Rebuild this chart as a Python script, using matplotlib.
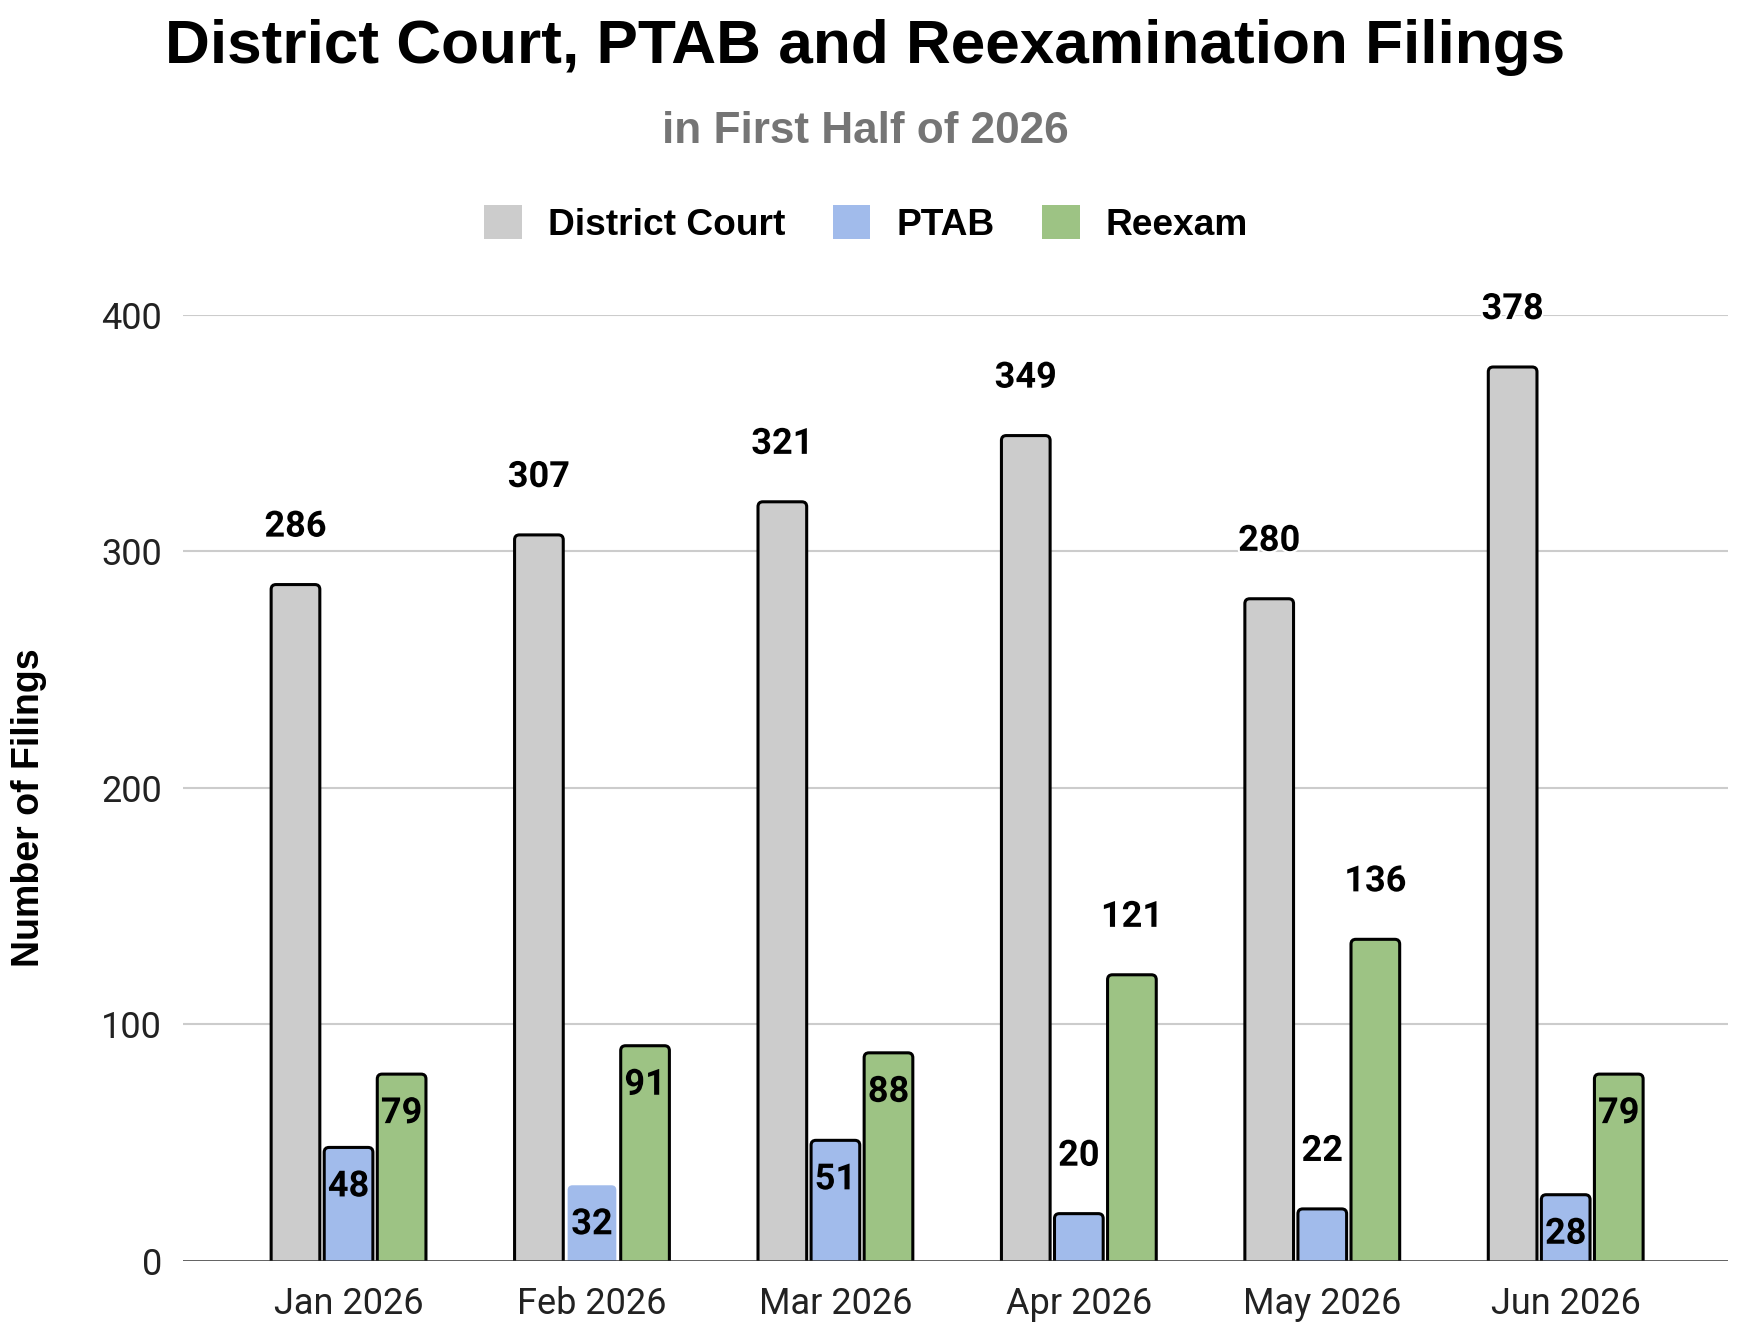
import numpy as np
import matplotlib
matplotlib.use("Agg")
import matplotlib.pyplot as plt
from matplotlib.patches import FancyBboxPatch, Patch
import matplotlib.patheffects as pe

months = ["Jan 2026", "Feb 2026", "Mar 2026", "Apr 2026", "May 2026", "Jun 2026"]
series = ["District Court", "PTAB", "Reexam"]
district = [286, 307, 321, 349, 280, 378]
ptab = [48, 32, 51, 20, 22, 28]
reexam = [79, 91, 88, 121, 136, 79]
yticks = [0, 100, 200, 300, 400]

colors = ["#cccccc", "#a1bbeb", "#9dc384"]
# which value labels sit inside the bar (google placed these itself)
inside = [
    [False] * 6,
    [True, True, True, False, False, True],
    [True, True, True, False, False, True],
]

fig = plt.figure(figsize=(17.48, 13.42), dpi=100)
ax = fig.add_axes([0.1047, 0.0604, 0.8839, 0.7049])
ax.set_xlim(-0.68, 5.667)
ax.set_ylim(0, 400)

x = np.arange(len(months))
width = 0.2
step = 0.218
aspect = (400 / 946) * 243.4

for k, vals in enumerate([district, ptab, reexam]):
    for i, v in enumerate(vals):
        xc = x[i] + (k - 1) * step
        edge = "none" if (k == 1 and i == 1) else "black"
        bar = FancyBboxPatch((xc - width / 2, -12), width, v + 12,
                             boxstyle="round,pad=0,rounding_size=0.02",
                             mutation_aspect=aspect,
                             facecolor=colors[k], edgecolor=edge,
                             linewidth=2.2, zorder=3)
        ax.add_patch(bar)
        if inside[k][i]:
            ty, halo = v - 16.5, colors[k]
        else:
            ty, halo = v + 24.5, "white"
        ax.text(xc, ty, str(v), ha="center", va="center", fontsize=26,
                fontweight="bold", family="Roboto", color="black", zorder=5,
                clip_on=False,
                path_effects=[pe.withStroke(linewidth=3, foreground=halo)])

for t in yticks[1:]:
    ax.axhline(t, color="#cccccc", lw=1.5, zorder=1)
ax.axhline(0, color="#333333", lw=1.8, zorder=6)

for s in ax.spines.values():
    s.set_visible(False)
ax.set_xticks(x)
ax.set_xticklabels(months, family="Roboto", fontsize=26, color="#222222")
ax.set_yticks(yticks)
ax.set_yticklabels([str(t) for t in yticks], family="Roboto", fontsize=26,
                   color="#222222")
ax.tick_params(axis="both", length=0)
ax.tick_params(axis="y", pad=15)
ax.tick_params(axis="x", pad=18)

fig.text(0.495, 0.953, "District Court, PTAB and Reexamination Filings",
         ha="center", va="baseline", fontsize=44.7, fontweight="bold",
         family="Liberation Sans", color="black")
fig.text(0.495, 0.8938, "in First Half of 2026", ha="center", va="baseline",
         fontsize=31.8, fontweight="bold", family="Liberation Sans", color="#757575")
fig.text(0.0165, 0.398, "Number of Filings", rotation=90, ha="center",
         va="center", fontsize=27, fontweight="bold", family="Liberation Sans",
         color="black")

handles = [Patch(facecolor=c, edgecolor="none") for c in colors]
fig.legend(handles, series, loc="center", bbox_to_anchor=(0.4955, 0.833),
           ncol=3, frameon=False, handlelength=1.0, handleheight=1.0,
           handletextpad=0.7, columnspacing=1.3,
           prop={"family": "Liberation Sans", "weight": "bold", "size": 26.7})

fig.savefig("out.png", dpi=100, facecolor="white")
